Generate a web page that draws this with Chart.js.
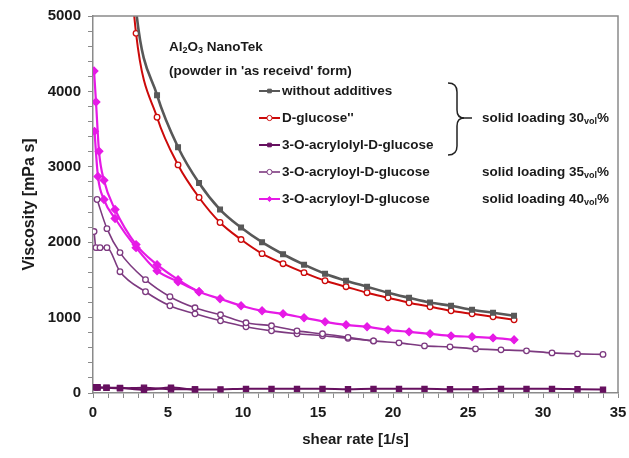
<!DOCTYPE html>
<html><head><meta charset="utf-8">
<script src="https://cdn.jsdelivr.net/npm/chart.js@4.4.1/dist/chart.umd.min.js"></script>
<style>html,body{margin:0;padding:0;background:#fff;}#wrap{width:629px;height:458px;}</style>
</head><body><div id="wrap"><canvas id="c" width="629" height="458"></canvas></div>
<script>
// ---- data ----
const xGrayRed = [1.47, 2.87, 4.27, 5.67, 7.07, 8.47, 9.87, 11.27, 12.67, 14.07, 15.47, 16.87, 18.27, 19.67, 21.07, 22.47, 23.87, 25.27, 26.67, 28.07];
const yWithoutAdditives = [9000, 5080, 3950, 3260, 2785, 2433, 2194, 2000, 1840, 1702, 1582, 1489, 1410, 1330, 1263, 1200, 1157, 1104, 1064, 1024];
const yDGlucose = [8400, 4770, 3657, 3025, 2593, 2261, 2035, 1848, 1715, 1596, 1489, 1410, 1330, 1263, 1197, 1144, 1090, 1050, 1011, 971];

const xAcr30 = [0.13, 0.3, 0.9, 1.8, 3.4, 5.2, 6.8, 8.5, 10.2, 11.9, 13.6, 15.3, 17, 18.7, 20.4, 22.1, 23.8, 25.5, 27.2, 28.9, 30.6, 32.3, 34];
const yAcr30up = [78, 76, 72, 68, 42, 72, 48, 48, 55, 55, 55, 55, 50, 55, 55, 55, 50, 50, 55, 55, 55, 50, 45];
const xAcr30down = [0.13, 0.3, 0.9, 1.8, 3.4, 5.2, 6.8];
const yAcr30down = [74, 72, 68, 62, 70, 50, 48];

const xAcr35up = [0.27, 0.93, 1.8, 3.5, 5.13, 6.8, 8.5, 10.2, 11.9, 13.6, 15.3, 17, 18.7, 20.4, 22.1, 23.8, 25.5, 27.2, 28.9, 30.6, 32.3, 34];
const yAcr35up = [2566, 2180, 1862, 1503, 1277, 1130, 1037, 931, 891, 824, 785, 738, 691, 665, 625, 612, 585, 572, 559, 532, 519, 512];
const xAcr35down = [0.07, 0.2, 0.47, 0.93, 1.8, 3.5, 5.13, 6.8, 8.5, 10.2, 11.9, 13.6, 15.3, 17, 18.7];
const yAcr35down = [2141, 1928, 1928, 1928, 1609, 1343, 1157, 1050, 957, 878, 824, 785, 760, 725, 691];

const xAcr40up = [0.07, 0.2, 0.4, 0.73, 1.47, 2.87, 4.27, 5.67, 7.07, 8.47, 9.87, 11.27, 12.67, 14.07, 15.47, 16.87, 18.27, 19.67, 21.07, 22.47, 23.87, 25.27, 26.67, 28.07];
const yAcr40up = [4270, 3860, 3205, 2820, 2433, 1968, 1702, 1503, 1343, 1250, 1157, 1090, 1050, 997, 944, 904, 878, 838, 811, 785, 758, 745, 731, 705];
const xAcr40down = [0.1, 0.33, 0.73, 1.47, 2.87, 4.27, 5.67, 7.07];
const yAcr40down = [3470, 2872, 2566, 2314, 1928, 1622, 1476, 1343];

const legendLabels = ["without additives", "D-glucose''", "3-O-acrylolyl-D-glucose", "3-O-acryloyl-D-glucose", "3-O-acryloyl-D-glucose"];
const loadingLabels = [["solid loading 30", "vol", "%"], ["solid loading 35", "vol", "%"], ["solid loading 40", "vol", "%"]];
const xTitle = "shear rate [1/s]";
const yTitle = "Viscosity [mPa s]";

// ---- styles ----
const C_GRAY = '#585858', C_RED = '#cc0a0a', C_DPUR = '#66105f', C_PUR = '#7d3a80', C_MAG = '#e61ae6';
const FONT = "'Liberation Sans', Arial, sans-serif";

function pts(xs, ys) { return xs.map((x, i) => ({x: x, y: ys[i]})); }
function ds(label, xs, ys, color, style, fill, radius, lw, inLegend) {
  return {label, data: pts(xs, ys), borderColor: color, backgroundColor: fill, pointStyle: style,
    pointRadius: radius, pointBorderColor: color, pointBackgroundColor: fill, pointBorderWidth: 1.3,
    borderWidth: lw, cubicInterpolationMode: 'monotone', fill: false, inLegend};
}
const datasets = [
  ds(legendLabels[0], xGrayRed, yWithoutAdditives, C_GRAY, 'rect', C_GRAY, 3.3, 2.6, true),
  ds(legendLabels[1], xGrayRed, yDGlucose, C_RED, 'circle', '#ffffff', 2.8, 2, true),
  ds(legendLabels[2], xAcr30, yAcr30up, C_DPUR, 'rect', C_DPUR, 3.6, 2, true),
  ds(legendLabels[2] + ' (2)', xAcr30down, yAcr30down, C_DPUR, 'rect', C_DPUR, 3.6, 2, false),
  ds(legendLabels[3], xAcr35up, yAcr35up, C_PUR, 'circle', '#ffffff', 2.8, 1.6, true),
  ds(legendLabels[3] + ' (2)', xAcr35down, yAcr35down, C_PUR, 'circle', '#ffffff', 2.8, 1.6, false),
  ds(legendLabels[4], xAcr40up, yAcr40up, C_MAG, 'rectRot', C_MAG, 3.8, 2.2, true),
  ds(legendLabels[4] + ' (2)', xAcr40down, yAcr40down, C_MAG, 'rectRot', C_MAG, 3.8, 2.2, false),
];

const annotPlugin = {
  id: 'annot',
  afterDraw(chart) {
    const ctx = chart.ctx, a = chart.chartArea;
    ctx.save();
    ctx.strokeStyle = '#8a8a8a'; ctx.lineWidth = 1.5;
    ctx.beginPath(); ctx.moveTo(a.left, a.top); ctx.lineTo(a.right, a.top); ctx.lineTo(a.right, a.bottom); ctx.stroke();

    ctx.fillStyle = '#1a1a1a'; ctx.textBaseline = 'middle'; ctx.textAlign = 'left';
    const big = 'bold 13.5px ' + FONT, small = 'bold 9px ' + FONT;
    function runs(parts, x, y) {
      for (const p of parts) {
        ctx.font = p.sub ? small : big;
        ctx.fillText(p.t, x, y + (p.sub ? 4 : 0));
        x += ctx.measureText(p.t).width;
      }
    }
    runs([{t: 'Al'}, {t: '2', sub: 1}, {t: 'O'}, {t: '3', sub: 1}, {t: ' NanoTek'}], 169, 47);
    ctx.font = big; ctx.fillText("(powder in 'as receivd' form)", 169, 71);

    const rowsY = [91, 118, 145, 172, 199];
    const legDs = chart.data.datasets.filter(d => d.inLegend);
    legDs.forEach((d, i) => {
      const y = rowsY[i];
      ctx.strokeStyle = d.borderColor; ctx.lineWidth = Math.min(d.borderWidth, 2);
      ctx.beginPath(); ctx.moveTo(259, y); ctx.lineTo(280, y); ctx.stroke();
      ctx.fillStyle = d.pointBackgroundColor; ctx.strokeStyle = d.pointBorderColor; ctx.lineWidth = 1;
      Chart.helpers.drawPoint(ctx, {pointStyle: d.pointStyle, radius: 2.6, borderWidth: 1, rotation: 0}, 269.5, y);
      ctx.fillStyle = '#1a1a1a'; ctx.font = big;
      ctx.fillText(d.label, 282, y);
    });
    const loadY = [118, 172, 199];
    loadingLabels.forEach((l, i) => runs([{t: l[0]}, {t: l[1], sub: 1}, {t: l[2]}], 482, loadY[i]));

    ctx.strokeStyle = '#222'; ctx.lineWidth = 1.5;
    ctx.beginPath();
    ctx.moveTo(448, 83);
    ctx.quadraticCurveTo(457, 83, 457, 92);
    ctx.lineTo(457, 110);
    ctx.quadraticCurveTo(457, 118, 464, 118);
    ctx.quadraticCurveTo(457, 118, 457, 126);
    ctx.lineTo(457, 146);
    ctx.quadraticCurveTo(457, 155, 448, 155);
    ctx.stroke();
    ctx.beginPath(); ctx.moveTo(462, 118); ctx.lineTo(472, 118); ctx.stroke();
    ctx.restore();
  }
};

new Chart(document.getElementById('c'), {
  type: 'line',
  data: {datasets},
  options: {
    responsive: false, animation: false, devicePixelRatio: 1,
    layout: {padding: {left: 0, right: 11, top: 16, bottom: 0}},
    plugins: {legend: {display: false}, tooltip: {enabled: false}},
    scales: {
      x: {
        type: 'linear', min: 0, max: 35,
        afterFit: s => { s.height = 65; s.paddingRight = 0; s.paddingLeft = 0; },
        border: {color: '#8a8a8a', width: 1.5},
        grid: {drawOnChartArea: false, drawTicks: true, tickLength: 5, color: '#8a8a8a'},
        ticks: {stepSize: 1, autoSkip: false, maxRotation: 0, padding: 6, color: '#1a1a1a',
          font: {family: FONT, size: 15, weight: 'bold'},
          callback: v => (v % 5 === 0 ? v : '')},
        title: {display: true, text: xTitle, color: '#1a1a1a', font: {family: FONT, size: 15, weight: 'bold'},
          padding: {top: 0, bottom: 9}}
      },
      y: {
        type: 'linear', min: 0, max: 5000,
        afterFit: s => { s.width = 93; },
        border: {color: '#8a8a8a', width: 1.5},
        grid: {drawOnChartArea: false, drawTicks: true, tickLength: 5, color: '#8a8a8a'},
        ticks: {stepSize: 200, autoSkip: false, padding: 7, color: '#1a1a1a',
          font: {family: FONT, size: 15, weight: 'bold'},
          callback: v => (v % 1000 === 0 ? v : '')},
        title: {display: true, text: yTitle, color: '#1a1a1a', font: {family: FONT, size: 16, weight: 'bold'},
          padding: {top: 20, bottom: 0}}
      }
    }
  },
  plugins: [annotPlugin]
});
</script>
</body></html>
